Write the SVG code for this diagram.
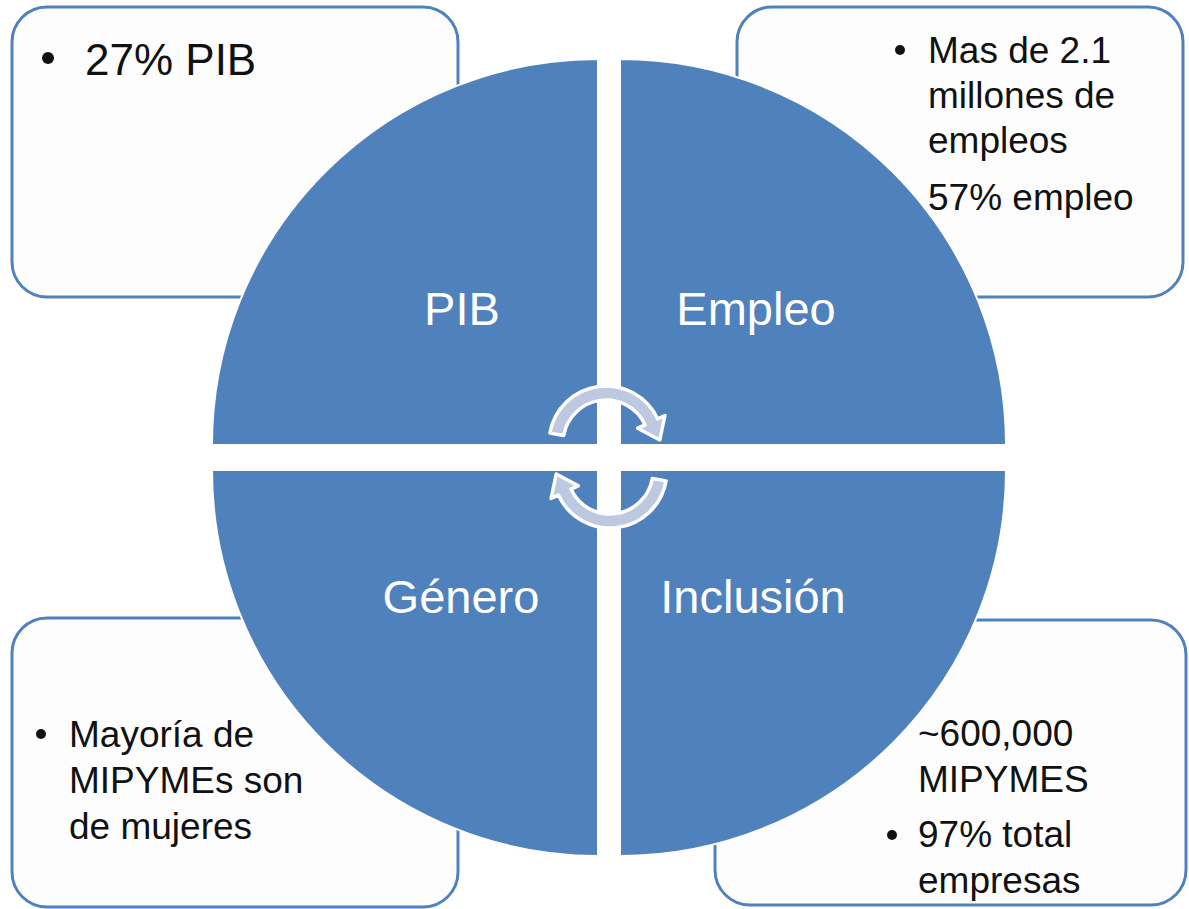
<svg xmlns="http://www.w3.org/2000/svg" width="1189" height="909" viewBox="0 0 1189 909">
<style>
.box{fill:#FDFDFD;stroke:#4F81BD;stroke-width:3}
.quad{fill:#4F81BD;stroke:#FFFFFF;stroke-width:2}
.arrow{fill:#BCC9E0;stroke:#FFFFFF;stroke-width:3.5;stroke-linejoin:round}
.qt{font-family:"Liberation Sans",Arial,sans-serif;font-size:47px;fill:#FFFFFF;text-anchor:middle}
.bt{font-family:"Liberation Sans",Arial,sans-serif;font-size:37px;fill:#111111}
.big{font-size:44px}
.dot{fill:#111111}
</style>
<rect width="1189" height="909" fill="#FFFFFF"/>
<g id="box-pib">
<rect class="box" x="12" y="7" width="446" height="290" rx="35"/>
<circle class="dot" cx="48" cy="58" r="6"/>
<text class="bt big" x="85" y="75">27% PIB</text>
</g>
<g id="box-empleo">
<rect class="box" x="737" y="7" width="446" height="290" rx="35"/>
<circle class="dot" cx="900" cy="50" r="5"/>
<text class="bt" x="928" y="63">Mas de 2.1</text>
<text class="bt" x="928" y="108">millones de</text>
<text class="bt" x="928" y="153">empleos</text>
<text class="bt" x="928" y="210">57% empleo</text>
</g>
<g id="box-genero">
<rect class="box" x="12" y="618" width="446" height="289" rx="35"/>
<circle class="dot" cx="41" cy="734" r="5"/>
<text class="bt" x="69" y="747">Mayoría de</text>
<text class="bt" x="69" y="793">MIPYMEs son</text>
<text class="bt" x="69" y="839">de mujeres</text>
</g>
<g id="box-inclusion">
<rect class="box" x="715" y="620" width="471" height="285" rx="35"/>
<text class="bt" x="918" y="746">~600,000</text>
<text class="bt" x="918" y="792">MIPYMES</text>
<circle class="dot" cx="892" cy="835" r="5"/>
<text class="bt" x="918" y="847">97% total</text>
<text class="bt" x="918" y="893">empresas</text>
</g>
<g id="q-pib">
<path class="quad" d="M598,445 L212,445 A386,386 0 0 1 598,59 Z"/>
<text class="qt" x="462" y="325">PIB</text>
</g>
<g id="q-empleo">
<path class="quad" d="M620,445 L620,59 A386,386 0 0 1 1006,445 Z"/>
<text class="qt" x="756" y="325">Empleo</text>
</g>
<g id="q-inclusion">
<path class="quad" d="M620,470 L1006,470 A386,386 0 0 1 620,856 Z"/>
<text class="qt" x="753" y="613">Inclusión</text>
</g>
<g id="q-genero">
<path class="quad" d="M598,470 L598,856 A386,386 0 0 1 212,470 Z"/>
<text class="qt" x="461" y="613">Género</text>
</g>
<g id="connectors">
<path id="arrow-top" class="arrow" d="M549.9,433.1 A57,57 0 0 1 657.7,418.9 L664.9,415.5 L659.8,440 L637.7,428.2 L645,424.8 A43,43 0 0 0 563.7,435.5 Z"/>
<path id="arrow-bottom" class="arrow" transform="rotate(180 608 457)" d="M549.9,433.1 A57,57 0 0 1 657.7,418.9 L664.9,415.5 L659.8,440 L637.7,428.2 L645,424.8 A43,43 0 0 0 563.7,435.5 Z"/>
</g>
</svg>
